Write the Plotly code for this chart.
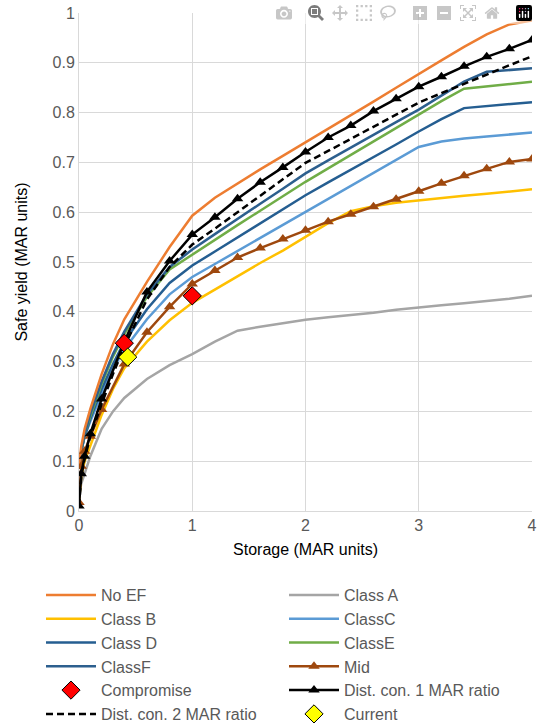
import plotly.graph_objects as go

STORAGE = [0, 0.02, 0.05, 0.1, 0.2, 0.3, 0.4, 0.6, 0.8, 1.0, 1.2, 1.4, 1.6, 1.8, 2.0,
           2.2, 2.4, 2.6, 2.8, 3.0, 3.2, 3.4, 3.6, 3.8, 4.0]
MARKER_STORAGE = [0, 0.02, 0.05, 0.1, 0.2, 0.4, 0.6, 0.8, 1.0, 1.2, 1.4, 1.6, 1.8, 2.0,
                  2.2, 2.4, 2.6, 2.8, 3.0, 3.2, 3.4, 3.6, 3.8, 4.0]

no_ef = [0.09, 0.13, 0.165, 0.205, 0.275, 0.335, 0.385, 0.46, 0.53, 0.593, 0.629, 0.658, 0.686,
         0.713, 0.740, 0.767, 0.795, 0.822, 0.85, 0.878, 0.905, 0.932, 0.957, 0.977, 0.985]
class_a = [0.03, 0.055, 0.075, 0.11, 0.165, 0.2, 0.227, 0.265, 0.293, 0.315, 0.34, 0.362, 0.37,
           0.377, 0.384, 0.389, 0.393, 0.398, 0.404, 0.409, 0.413, 0.417, 0.421, 0.426, 0.432]
class_b = [0.02, 0.07, 0.1, 0.13, 0.193, 0.245, 0.287, 0.34, 0.383, 0.418, 0.445, 0.472, 0.498,
           0.523, 0.551, 0.578, 0.602, 0.612, 0.619, 0.624, 0.629, 0.633, 0.637, 0.641, 0.646]
class_c = [0.085, 0.12, 0.15, 0.18, 0.235, 0.285, 0.325, 0.385, 0.435, 0.47, 0.496, 0.522, 0.548,
           0.574, 0.601, 0.627, 0.653, 0.679, 0.705, 0.731, 0.742, 0.748, 0.752, 0.756, 0.76]
class_d = [0.085, 0.12, 0.15, 0.185, 0.245, 0.295, 0.34, 0.405, 0.458, 0.493, 0.521, 0.549, 0.577,
           0.605, 0.634, 0.66, 0.685, 0.711, 0.736, 0.762, 0.787, 0.809, 0.813, 0.817, 0.821]
class_e = [0.085, 0.12, 0.155, 0.19, 0.255, 0.31, 0.355, 0.43, 0.485, 0.515, 0.545, 0.574, 0.603,
           0.632, 0.661, 0.688, 0.715, 0.742, 0.769, 0.796, 0.823, 0.848, 0.853, 0.857, 0.862]
class_f = [0.085, 0.12, 0.155, 0.195, 0.26, 0.315, 0.36, 0.435, 0.49, 0.525, 0.556, 0.587, 0.617,
           0.647, 0.678, 0.704, 0.73, 0.756, 0.781, 0.806, 0.834, 0.862, 0.882, 0.886, 0.889]
dist_con_2 = [0.01, 0.07, 0.105, 0.15, 0.215, 0.275, 0.33, 0.425, 0.49, 0.535, 0.567, 0.6, 0.633,
              0.666, 0.699, 0.723, 0.747, 0.772, 0.796, 0.82, 0.839, 0.858, 0.876, 0.895, 0.913]
dist_con_1 = [0.01, 0.075, 0.11, 0.155, 0.225, 0.34, 0.44, 0.502, 0.555, 0.59, 0.627, 0.66, 0.69,
              0.721, 0.75, 0.774, 0.803, 0.828, 0.852, 0.872, 0.893, 0.912, 0.928, 0.946]
mid = [0.017, 0.09, 0.12, 0.15, 0.204, 0.295, 0.359, 0.41, 0.456, 0.483, 0.509, 0.528, 0.546,
       0.564, 0.581, 0.596, 0.611, 0.626, 0.642, 0.658, 0.673, 0.687, 0.701, 0.707]
compromise_x = [0.4, 1.0]
compromise_y = [0.337, 0.432]
current_x = [0.43]
current_y = [0.309]
x_ticks = [0, 1, 2, 3, 4]

TXT = "#595959"
FONT = "Liberation Sans, Arial, sans-serif"
LW = 2.5

fig = go.Figure()

# legend: "legend" = left column, "legend2" = right column
def line(name, y, color, rank, leg, x=STORAGE, dash="solid", marker=None):
    kw = dict(x=x, y=y, name=name, legendrank=rank, legend=leg,
              line=dict(color=color, width=LW, dash=dash))
    if marker:
        kw["mode"] = "lines+markers"
        kw["marker"] = marker
    else:
        kw["mode"] = "lines"
    fig.add_trace(go.Scatter(**kw))

line("Class A", class_a, "#A5A5A5", 1, "legend2")
line("Class B", class_b, "#FFC000", 2, "legend")
line("ClassC", class_c, "#5B9BD5", 2, "legend2")
line("Class D", class_d, "#255E91", 3, "legend")
line("ClassE", class_e, "#70AD47", 3, "legend2")
line("ClassF", class_f, "#2C5F8E", 4, "legend")
line("No EF", no_ef, "#ED7D31", 1, "legend")
line("Mid", mid, "#9E480E", 4, "legend2", x=MARKER_STORAGE,
     marker=dict(symbol="triangle-up", size=10, color="#9E480E"))
line("Dist. con. 2 MAR ratio", dist_con_2, "#000000", 6, "legend", dash="7px,4px")
line("Dist. con. 1 MAR ratio", dist_con_1, "#000000", 5, "legend2", x=MARKER_STORAGE,
     marker=dict(symbol="triangle-up", size=10, color="#000000"))
fig.add_trace(go.Scatter(x=compromise_x, y=compromise_y, name="Compromise", mode="markers",
                         legendrank=5, legend="legend",
                         marker=dict(symbol="diamond", size=14, color="#FF0000",
                                     line=dict(color="#000000", width=1))))
fig.add_trace(go.Scatter(x=current_x, y=current_y, name="Current", mode="markers",
                         legendrank=6, legend="legend2",
                         marker=dict(symbol="diamond", size=14, color="#FFFF00",
                                     line=dict(color="#000000", width=1))))

leg_common = dict(orientation="h", xref="container", xanchor="left",
                  yref="container", y=1 - 578 / 725, yanchor="top", itemwidth=50,
                  entrywidth=200, entrywidthmode="pixels",
                  font=dict(family=FONT, size=16, color=TXT),
                  traceorder="normal", tracegroupgap=0, itemclick=False,
                  bgcolor="rgba(0,0,0,0)")

fig.update_layout(
    width=538, height=725,
    margin=dict(l=79, r=6, t=13, b=214),
    paper_bgcolor="white", plot_bgcolor="white",
    font=dict(family=FONT, size=16, color=TXT),
    showlegend=True,
    legend=dict(x=41 / 538, **leg_common),
    legend2=dict(x=284 / 538, **leg_common),
    xaxis=dict(range=[0, 4], tickmode="array", tickvals=x_ticks, showgrid=True,
               gridcolor="#D9D9D9", gridwidth=1, ticklabeloverflow="allow", automargin=False,
               zeroline=False, showline=True, linecolor="#D9D9D9", mirror=False,
               ticks="", tickfont=dict(size=16, color=TXT),
               title=dict(text="Storage (MAR units)", font=dict(size=16, color="#000000"), standoff=10)),
    yaxis=dict(range=[0, 1], dtick=0.1, showgrid=True, gridcolor="#D9D9D9", gridwidth=1,
               zeroline=False, showline=True, linecolor="#D9D9D9", automargin=False,
               ticks="", tickfont=dict(size=16, color=TXT),
               title=dict(text="Safe yield (MAR units)", font=dict(size=16, color="#000000"), standoff=20)),
)

fig.write_html("out.html",
               post_script="document.body.style.margin='0';document.body.style.overflow='hidden';")
